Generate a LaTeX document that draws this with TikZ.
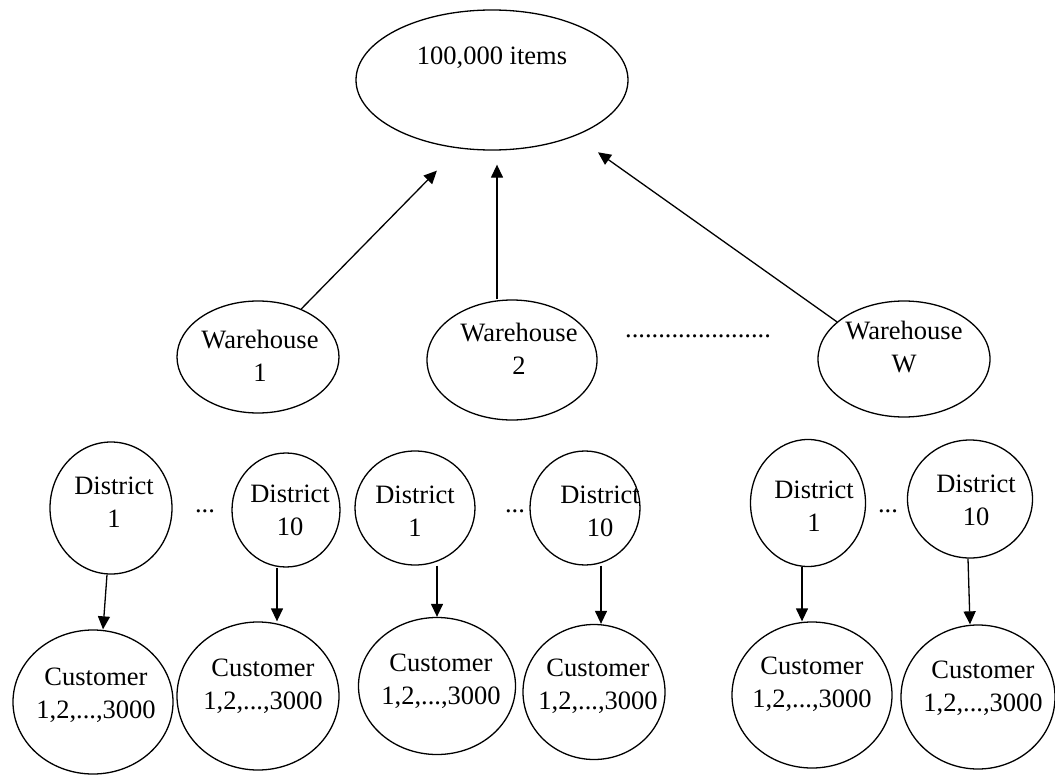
\documentclass[tikz,border=0pt]{standalone}
\usepackage{fontspec}
\setmainfont{Liberation Serif}
\usetikzlibrary{shapes.geometric,arrows.meta}
\begin{document}
\begin{tikzpicture}[x=1pt,y=-1pt,
  shp/.style={draw, ellipse, line width=1.3pt, inner sep=0pt},
  txt/.style={align=center, inner sep=0pt, font=\fontsize{26.5}{33}\selectfont},
  arr/.style={-{Triangle[length=13pt,width=12pt]}, line width=1.3pt}]
\useasboundingbox (0,0) rectangle (1055,776);
% top
\node[shp, minimum width=272pt, minimum height=140pt] (top) at (492,80) {};
\node[txt] (topt) at (492,58) {100,000 items};
% warehouses
\node[shp, minimum width=162pt, minimum height=112pt] (w1) at (258,357) {};
\node[txt] (w1t) at (260,356) {Warehouse\\1};
\node[shp, minimum width=170pt, minimum height=120pt] (w2) at (512,360) {};
\node[txt] (w2t) at (519,349) {Warehouse\\2};
\node[shp, minimum width=172pt, minimum height=116pt] (ww) at (904,359) {};
\node[txt] (wwt) at (904,347) {Warehouse\\W};
\node[txt, anchor=base] (wdots) at (698,337) {......................};
% arrows to top
\draw[arr, shorten >=31pt] (w1.48) -- (top.244);
\draw[arr, shorten >=14pt] ([xshift=-15pt]w2.north) -- ([xshift=-15pt]w2.north |- top.south);
\draw[arr, shorten >=28pt] (ww.151) -- (top.326);
% districts
\node[shp, minimum width=122pt, minimum height=132pt] (d11) at (111,508) {};
\node[txt] (d11t) at (114,502) {District\\1};
\node[txt, anchor=base] (dots1) at (205,512) {...};
\node[shp, minimum width=108pt, minimum height=114pt] (d110) at (286,510) {};
\node[txt] (d110t) at (290,510) {District\\10};
\node[shp, minimum width=120pt, minimum height=114pt] (d21) at (415,508) {};
\node[txt] (d21t) at (415,511) {District\\1};
\node[txt, anchor=base] (dots2) at (515,512) {...};
\node[shp, minimum width=110pt, minimum height=114pt] (d210) at (585,508) {};
\node[txt] (d210t) at (600,511) {District\\10};
\node[shp, minimum width=115pt, minimum height=127pt] (d31) at (808,503) {};
\node[txt] (d31t) at (814,506) {District\\1};
\node[txt, anchor=base] (dots3) at (888,512) {...};
\node[shp, minimum width=125pt, minimum height=118pt] (d310) at (970,499) {};
\node[txt] (d310t) at (976,500) {District\\10};
% customers
\node[shp, minimum width=160pt, minimum height=144pt] (c1) at (93,702) {};
\node[txt] (c1t) at (96,695) {Customer\\1,2,...,3000};
\node[shp, minimum width=162pt, minimum height=148pt] (c2) at (258,696) {};
\node[txt] (c2t) at (263,686) {Customer\\1,2,...,3000};
\node[shp, minimum width=157pt, minimum height=137pt] (c3) at (437,686) {};
\node[txt] (c3t) at (441,681) {Customer\\1,2,...,3000};
\node[shp, minimum width=142pt, minimum height=135pt] (c4) at (594,692) {};
\node[txt] (c4t) at (598,686) {Customer\\1,2,...,3000};
\node[shp, minimum width=160pt, minimum height=146pt] (c5) at (812,695) {};
\node[txt] (c5t) at (812,684) {Customer\\1,2,...,3000};
\node[shp, minimum width=154pt, minimum height=144pt] (c6) at (978,697) {};
\node[txt] (c6t) at (983,688) {Customer\\1,2,...,3000};
% district -> customer
\draw[arr] ([xshift=-4pt]d11.south) -- ([xshift=10pt]c1.north);
\draw[arr] ([xshift=-9pt]d110.south) -- ([xshift=19pt]c2.north);
\draw[arr] ([xshift=22pt]d21.south) -- (c3.north);
\draw[arr] ([xshift=16pt]d210.south) -- ([xshift=7pt]c4.north);
\draw[arr] ([xshift=-6pt]d31.south) -- ([xshift=-10pt]c5.north);
\draw[arr] ([xshift=-2pt]d310.south) -- ([xshift=-8pt]c6.north);
\end{tikzpicture}
\end{document}
